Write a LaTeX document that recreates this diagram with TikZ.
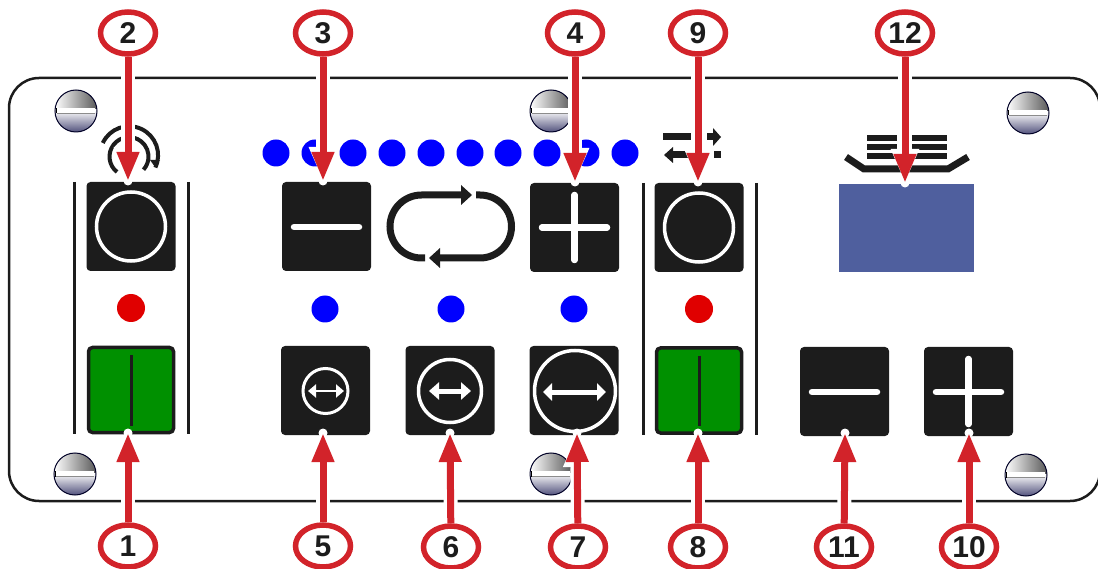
\documentclass[tikz,border=0pt]{standalone}
\usepackage{fontspec}
\setmainfont{Liberation Sans}
\usetikzlibrary{arrows.meta,shapes.geometric,calc}
\pgfdeclarelayer{conn}
\pgfdeclarelayer{top}
\pgfsetlayers{main,conn,top}
\definecolor{ink}{HTML}{1C1C1C}
\definecolor{callred}{HTML}{D2232A}
\definecolor{dotblue}{HTML}{0000FF}
\definecolor{ledred}{HTML}{E00000}
\definecolor{gr}{HTML}{009000}
\definecolor{slate}{HTML}{4F5F9E}
\definecolor{navy}{HTML}{3A3A6A}
\tikzset{
  btn/.style={fill=ink,rounded corners=4pt,minimum width=89pt,minimum height=89pt,inner sep=0pt,outer sep=0pt},
  greenbtn/.style={fill=gr,draw=ink,line width=3.5pt,rounded corners=4pt,minimum width=85pt,minimum height=85pt,inner sep=0pt},
  bluedot/.style={circle,fill=dotblue,minimum size=27pt,inner sep=0pt},
  leddot/.style={circle,fill=ledred,minimum size=28pt,inner sep=0pt},
  ring/.style={circle,draw=white,line width=3.5pt,inner sep=0pt},
  callout/.style={ellipse,draw=callred,fill=white,line width=5.5pt,minimum width=55pt,minimum height=42pt,inner sep=0pt,font=\bfseries\fontsize{30}{30}\selectfont,text=ink},
  halo/.style={white,line width=14pt,-{Triangle[length=34pt,width=26pt]}},
  tipdot/.style={circle,fill=white,minimum size=9pt,inner sep=0pt},
  redarrow/.style={callred,line width=7pt,-{Triangle[length=29pt,width=21pt]}},
  whitebar/.style={white,line width=6.5pt,line cap=round},
  symline/.style={ink,line width=7pt},
  rotline/.style={ink,line width=4pt},
  sep/.style={ink,line width=3pt},
  screw/.pic={
    \begin{scope}
      \clip (0,0) circle (21);
      \shade[left color=white,middle color=black!12,right color=black!65] (-21,-21) rectangle (21,1);
      \shade[shading angle=35,top color=white,bottom color=navy] (-25,-1) rectangle (25,24);
    \end{scope}
    \draw[black!85!blue,line width=1pt] (0,0) circle (21);
    \fill[white] (-19,-3) rectangle (19,2.5);
    \draw[black!45,line width=.8pt] (-19,2.5) -- (19,2.5);
    \draw[black,line width=1.2pt] (-19.5,-3) -- (-19.5,2.5);
  }
}
\begin{document}
\begin{tikzpicture}[x=1pt,y=-1pt]
\useasboundingbox (0,0) rectangle (1098,569);
\draw[ink,line width=2.5pt,rounded corners=30pt] (9,78) rectangle (1100,501);
% screws
\foreach \px/\py in {76/111,551/111,1028/113,75/474,551/474,1026/475}
  \pic at (\px,\py) {screw};
% blue dots
\foreach \i/\px in {a/276,b/315,c/353,d/392,e/431,f/470,g/508,h/547,i/586,j/625}
  \node[bluedot] (dot\i) at (\px,153) {};
\node[bluedot] (dot5) at (325,309) {};
\node[bluedot] (dot6) at (451,309) {};
\node[bluedot] (dot7) at (574,309) {};
\node[leddot] (led1) at (131,308) {};
\node[leddot] (led2) at (699,309) {};
% separators
\draw[sep] (74,182) -- (74,434);
\draw[sep] (188,182) -- (188,434);
\draw[sep] (643,183) -- (643,435);
\draw[sep] (756,183) -- (756,435);
% buttons top row
\node[btn] (b2) at (131,226.5) {};
\node[ring,minimum size=69pt] at (b2) {};
\node[btn] (b3) at (326.5,226.5) {};
\draw[whitebar] (294,227) -- (359,227);
\node[btn] (b4) at (574.5,227.5) {};
\draw[whitebar] (542,227.5) -- (607,227.5);
\draw[whitebar] (574.5,195) -- (574.5,260);
\node[btn] (b9) at (699,227.5) {};
\node[ring,minimum size=69pt] at (b9) {};
\node[fill=slate,minimum width=135pt,minimum height=88pt,inner sep=0pt] (disp) at (906.5,228) {};
% green
\node[greenbtn] (g1) at (131,390) {};
\draw[ink,line width=3pt] (131,355) -- (131,426);
\node[greenbtn] (g2) at (699,390.5) {};
\draw[ink,line width=3pt] (699,356) -- (699,426);
% bottom row
\node[btn] (b5) at (325.5,390.5) {};
\node[ring,line width=3pt,minimum size=45pt] at (325.5,391) {};
\draw[white,line width=2.5pt,{Triangle[length=8pt,width=13pt]}-{Triangle[length=8pt,width=13pt]}] (308,391) -- (344,391);
\node[btn] (b6) at (450,390.5) {};
\node[ring,minimum size=63pt] at (450,391) {};
\draw[white,line width=5pt,{Triangle[length=10pt,width=17pt]}-{Triangle[length=10pt,width=17pt]}] (429,391) -- (471,391);
\node[btn] (b7) at (574,390.5) {};
\node[ring,minimum size=81pt] at (575,391) {};
\draw[white,line width=5pt,{Triangle[length=9pt,width=17pt]}-{Triangle[length=9pt,width=17pt]}] (543,392) -- (606,392);
\node[btn] (b11) at (844.5,391.5) {};
\draw[whitebar] (812,392) -- (877,392);
\node[btn] (b10) at (968.5,391.5) {};
\draw[whitebar] (936,392) -- (1001,392);
\draw[whitebar] (968.5,359) -- (968.5,424);
% loop symbol
\draw[symline] (425,258) -- (421.5,258) arc[start angle=270,end angle=90,radius=31.5pt] -- (462,195);
\fill[ink] (461,185) -- (472,195) -- (461,205) -- cycle;
\draw[symline] (476,195) -- (480,195) arc[start angle=90,end angle=-90,radius=31.5pt] -- (439,258);
\fill[ink] (440,248) -- (429,258) -- (440,268) -- cycle;
% rotation symbol
\draw[rotline] (102.8,143) arc[start angle=155,end angle=-25,radius=29pt];
\fill[ink] (150,160) -- (160,160) -- (155,167) -- cycle;
\draw[rotline] (117,172) arc[start angle=232,end angle=-42,radius=19.5pt];
% direction symbol
\fill[ink] (663,133.5) rectangle (692,140.5);
\fill[ink] (707,133.5) rectangle (713,140.5);
\fill[ink] (713,128) -- (721,137) -- (713,146) -- cycle;
\fill[ink] (673,147) -- (664,155) -- (673,163) -- cycle;
\fill[ink] (673,151.5) rectangle (692,158.5);
\fill[ink] (714,151.5) rectangle (721,158.5);
% stack symbol
\foreach \py in {135,144.3,153.3} {
  \fill[ink] (867,\py) rectangle (897,\py+5.7);
  \fill[ink] (912,\py) rectangle (947,\py+5.7);
}
\draw[symline,line join=miter] (846,157) -- (864,169) -- (948,169) -- (968,157);
% callouts
\begin{pgfonlayer}{top}
\node[callout] (n2) at (128,33) {2};
\node[callout] (n3) at (323,33) {3};
\node[callout] (n4) at (575,33) {4};
\node[callout] (n9) at (698,33) {9};
\node[callout] (n12) at (905,33) {12};
\node[callout] (n1) at (128,546) {1};
\node[callout] (n5) at (323,546) {5};
\node[callout] (n6) at (451,547) {6};
\node[callout] (n7) at (578,547) {7};
\node[callout] (n8) at (698,547) {8};
\node[callout] (n11) at (844,547) {11};
\node[callout] (n10) at (969,547) {10};
\end{pgfonlayer}
\coordinate (t2) at (128,181);
\coordinate (t3) at (323,181);
\coordinate (t4) at (575,182);
\coordinate (t9) at (698,182);
\coordinate (t12) at (905,183);
\coordinate (t1) at (128,433);
\coordinate (t5) at (323,433);
\coordinate (t6) at (450,433);
\coordinate (t7) at (577,433);
\coordinate (t8) at (698,433);
\coordinate (t11) at (845,433);
\coordinate (t10) at (969,433);
\begin{pgfonlayer}{conn}
\foreach \a/\b in {n2/t2,n3/t3,n4/t4,n9/t9,n12/t12,n1/t1,n5/t5,n6/t6,n7/t7,n8/t8,n11/t11,n10/t10} {
  \draw[halo] (\a) -- (\b);
  \node[tipdot] at (\b) {};
}
\foreach \a/\b in {n2/t2,n3/t3,n4/t4,n9/t9,n12/t12,n1/t1,n5/t5,n6/t6,n7/t7,n8/t8,n11/t11,n10/t10}
  \draw[redarrow] (\a) -- (\b);
\end{pgfonlayer}
\end{tikzpicture}
\end{document}
